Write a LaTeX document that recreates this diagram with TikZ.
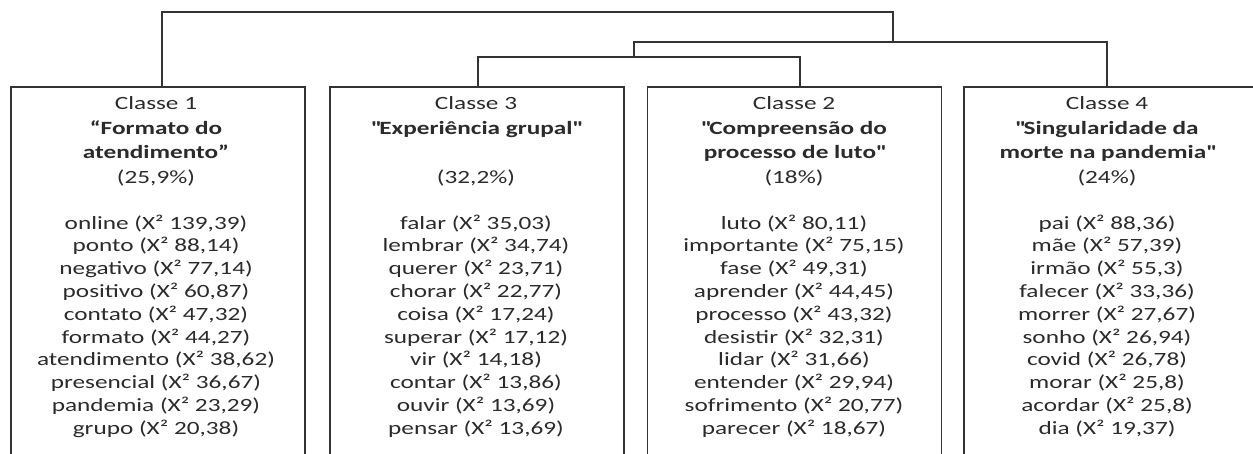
\documentclass[tikz,border=0pt]{standalone}
\usepackage{fontspec}
\setmainfont{Carlito}[FakeStretch=1.35]
\definecolor{linec}{HTML}{333333}
\definecolor{txt}{HTML}{2B2B2B}
\newcommand{\qq}{\textquotedbl}
\begin{document}
\begin{tikzpicture}[x=1pt,y=-1pt,
  box/.style={draw=linec, line width=1.6pt, minimum width=294pt, minimum height=372pt, anchor=north, inner sep=0pt},
  title/.style={anchor=base, align=center, inner sep=0pt, font=\fontsize{18.7}{24.6}\selectfont, text=txt},
  words/.style={anchor=base, align=center, inner sep=0pt, font=\fontsize{18.7}{22.8}\selectfont, text=txt},
  link/.style={draw=linec, line width=1.6pt}]
\useasboundingbox (0,0) rectangle (1253,453);
% boxes
\node[box] (b1) at (158,86) {};
\node[box] (b3) at (477,86) {};
\node[box] (b2) at (794.5,86) {};
\node[box, minimum width=292pt] (b4) at (1110,86) {};
% titles (anchor = baseline of the last line)
\node[title] (t1) at (156,183.3) {Classe 1\\\textbf{“Formato do}\\\textbf{atendimento”}\\(25,9\%)};
\node[title] (t3) at (476,183.3) {Classe 3\\\textbf{\qq Experiência grupal\qq}\\[24.6pt](32,2\%)};
\node[title] (t2) at (794,183.3) {Classe 2\\\textbf{\qq Compreensão do}\\\textbf{processo de luto\qq}\\(18\%)};
\node[title] (t4) at (1107,183.3) {Classe 4\\\textbf{\qq Singularidade da}\\\textbf{morte na pandemia\qq}\\(24\%)};
% word lists (anchor = baseline of the last line)
\node[words] (w1) at (156,434.2) {online (X² 139,39)\\ponto (X² 88,14)\\negativo (X² 77,14)\\positivo (X² 60,87)\\contato (X² 47,32)\\formato (X² 44,27)\\atendimento (X² 38,62)\\presencial (X² 36,67)\\pandemia (X² 23,29)\\grupo (X² 20,38)};
\node[words] (w3) at (476,434.2) {falar (X² 35,03)\\lembrar (X² 34,74)\\querer (X² 23,71)\\chorar (X² 22,77)\\coisa (X² 17,24)\\superar (X² 17,12)\\vir (X² 14,18)\\contar (X² 13,86)\\ouvir (X² 13,69)\\pensar (X² 13,69)};
\node[words] (w2) at (794,434.2) {luto (X² 80,11)\\importante (X² 75,15)\\fase (X² 49,31)\\aprender (X² 44,45)\\processo (X² 43,32)\\desistir (X² 32,31)\\lidar (X² 31,66)\\entender (X² 29,94)\\sofrimento (X² 20,77)\\parecer (X² 18,67)};
\node[words] (w4) at (1107,434.2) {pai (X² 88,36)\\mãe (X² 57,39)\\irmão (X² 55,3)\\falecer (X² 33,36)\\morrer (X² 27,67)\\sonho (X² 26,94)\\covid (X² 26,78)\\morar (X² 25,8)\\acordar (X² 25,8)\\dia (X² 19,37)};
% dendrogram junctions
\coordinate (top) at (893,12);
\coordinate (jr) at (893,42);
\coordinate (j4) at (634,42);
\coordinate (j32) at (634,57);
\coordinate (c1) at (162,86);
\coordinate (c3) at (478,86);
\coordinate (c2) at (800,86);
\coordinate (c4) at (1107,86);
\draw[link] (c1) |- (top) -- (jr);
\draw[link] (j32) -- (j4) -| (c4);
\draw[link] (c3) |- (j32) -| (c2);
\end{tikzpicture}
\end{document}
